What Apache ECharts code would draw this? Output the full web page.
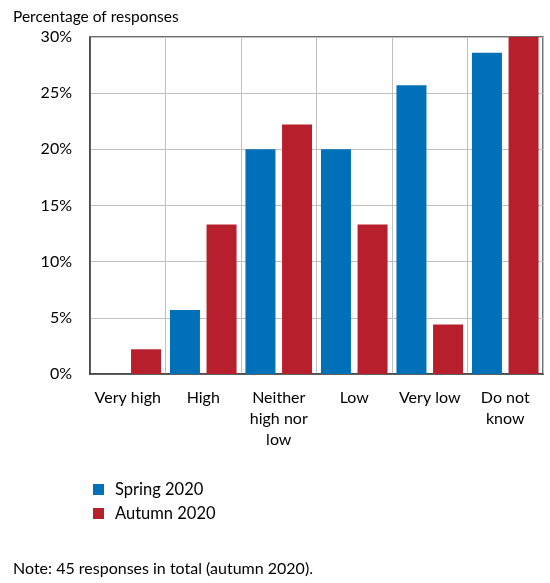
<!DOCTYPE html>
<html><head><meta charset="utf-8">
<script src="https://cdn.jsdelivr.net/npm/echarts@6/dist/echarts.min.js"></script>
<style>html,body{margin:0;padding:0;background:#fff}#c{width:550px;height:583px}</style>
</head><body><div id="c"></div>
<script>
const categories = ['Very high', 'High', 'Neither\nhigh nor\nlow', 'Low', 'Very low', 'Do not\nknow'];
const spring2020 = [0, 5.7, 20.0, 20.0, 25.7, 28.6];
const autumn2020 = [2.2, 13.3, 22.2, 13.3, 4.4, 44.4];
const yTicks = [0, 5, 10, 15, 20, 25, 30];
const seriesNames = ['Spring 2020', 'Autumn 2020'];
const FONT = 'Lato';
const chart = echarts.init(document.getElementById('c'), null, {renderer: 'canvas'});
chart.setOption({
  animation: false,
  textStyle: {fontFamily: FONT},
  graphic: [
    {type: 'text', left: 13, top: 9, style: {text: 'Percentage of responses', font: '15.5px ' + FONT, fill: '#000'}},
    {type: 'text', left: 13, top: 561, style: {text: 'Note: 45 responses in total (autumn 2020).', font: '16px ' + FONT, fill: '#000'}}
  ],
  legend: {
    orient: 'vertical', left: 88, top: 476, itemWidth: 11, itemHeight: 11, itemGap: 7,
    icon: 'rect', data: seriesNames,
    textStyle: {fontSize: 16.5, color: '#000', fontFamily: FONT, padding: [0, 0, 0, 6]}
  },
  grid: {left: 90, right: 7, top: 37, bottom: 209, show: true, borderColor: '#404040', borderWidth: 1.5, containLabel: false},
  xAxis: {
    type: 'category', data: categories,
    axisLine: {show: true, lineStyle: {color: '#404040', width: 1.5}},
    axisTick: {show: false},
    splitLine: {show: true, lineStyle: {color: '#c0c0c0', width: 1}},
    axisLabel: {fontSize: 16, color: '#000', lineHeight: 21, margin: 13, interval: 0, fontFamily: FONT}
  },
  yAxis: {
    type: 'value', min: 0, max: 30, interval: 5,
    axisLine: {show: true, lineStyle: {color: '#404040', width: 1.5}},
    axisTick: {show: false},
    splitLine: {show: true, lineStyle: {color: '#c0c0c0', width: 1}},
    axisLabel: {fontSize: 16, color: '#000', margin: 18, fontFamily: FONT,
      formatter: v => yTicks.includes(v) ? v + '%' : ''}
  },
  series: [
    {name: seriesNames[0], type: 'bar', data: spring2020, barWidth: 30, barGap: '22%',
     itemStyle: {color: '#0070B8'}},
    {name: seriesNames[1], type: 'bar', data: autumn2020, barWidth: 30, barGap: '22%',
     itemStyle: {color: '#B81F2D'}}
  ]
});
</script></body></html>
